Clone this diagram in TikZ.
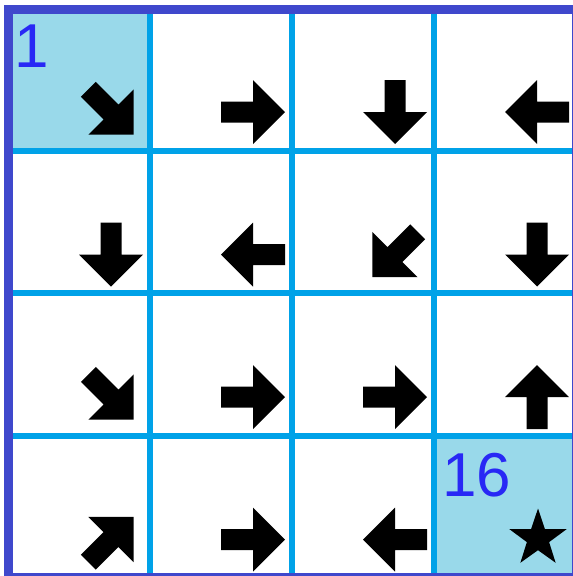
\documentclass[tikz,border=0pt]{standalone}
\usepackage{fontspec}
\setmainfont{Liberation Sans}
\definecolor{gridline}{RGB}{0,162,232}
\definecolor{outerline}{RGB}{63,72,204}
\definecolor{cellfill}{RGB}{153,217,234}
\definecolor{numblue}{RGB}{40,40,245}
\tikzset{
  arrowshape/.style={fill=black},
  numtext/.style={text=numblue,inner sep=0pt,anchor=base west,font=\fontsize{62pt}{62pt}\selectfont},
}
\newcommand\cellarrow[3]{%
  \fill[arrowshape,shift={(#1,#2)},rotate=#3]
    (32,0) -- (0,32) -- (0,10.5) -- (-32,10.5) -- (-32,-10.5) -- (0,-10.5) -- (0,-32) -- cycle;}
\begin{document}
\begin{tikzpicture}[x=1pt,y=1pt]
\useasboundingbox (0,0) rectangle (573,-576);
% shaded cells
\fill[cellfill] (8,-8.5) rectangle (150,-151);
\fill[cellfill] (434,-436) rectangle (576,-578);
% inner grid lines
\foreach \x in {150,292,434} \draw[gridline,line width=6pt] (\x,-8.5) -- (\x,-578);
\foreach \y in {151,293,436} \draw[gridline,line width=6pt] (8,-\y) -- (576,-\y);
% outer border
\draw[outerline,line width=9pt] (8.5,-9) rectangle (576.5,-577.5);
% numbers
\node[numtext] (n1) at (14,-67) {1};
\node[numtext] (n16) at (442,-496) {16};
% arrows: row 0
\cellarrow{111}{-112}{-45}
\cellarrow{253}{-112}{0}
\cellarrow{395}{-112}{270}
\cellarrow{537}{-112}{180}
% row 1
\cellarrow{111}{-254.5}{270}
\cellarrow{253}{-254.5}{180}
\cellarrow{395}{-254.5}{225}
\cellarrow{537}{-254.5}{270}
% row 2
\cellarrow{111}{-397}{-45}
\cellarrow{253}{-397}{0}
\cellarrow{395}{-397}{0}
\cellarrow{537}{-397}{90}
% row 3
\cellarrow{111}{-539.5}{45}
\cellarrow{253}{-539.5}{0}
\cellarrow{395}{-539.5}{180}
% star
\fill[black,shift={(538,-538.5)}]
  (90:30) -- (126:11.7) -- (162:30) -- (198:11.7) -- (234:30) -- (270:11.7)
  -- (306:30) -- (342:11.7) -- (18:30) -- (54:11.7) -- cycle;
\end{tikzpicture}
\end{document}
